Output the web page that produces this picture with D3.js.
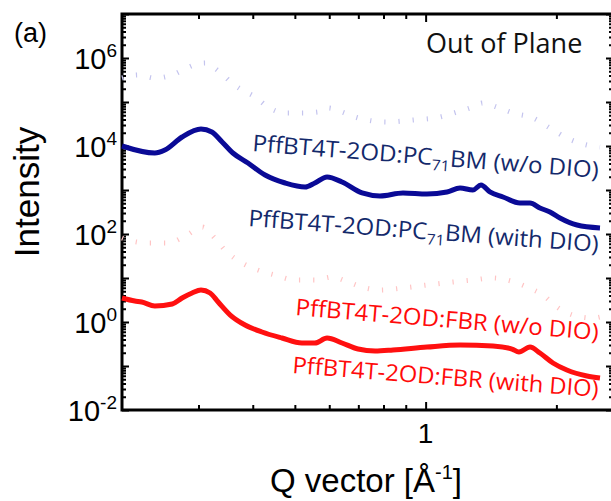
<!DOCTYPE html>
<html><head><meta charset="utf-8">
<script src="https://cdn.jsdelivr.net/npm/d3@7"></script>
<style>body{margin:0;background:#fff}svg{display:block}</style>
</head><body>
<svg id="c" width="611" height="501"></svg>
<script>
// ---- data ----
const qBlueSolid = [0.2,0.238,0.251,0.275,0.304,0.322,0.34,0.36,0.39,0.427,0.475,0.528,0.556,0.593,0.642,0.714,0.785,0.887,1.007,1.12,1.2,1.285,1.341,1.406,1.507,1.649,1.739,1.833,1.933,2.038,2.231,2.52];
const iBlueSolid = [10000,6930,8110,16020,24340,20800,12330,6930,4110,2190,1443,1170,1443,1974,1520,855,731,855,811,901,1110,1000,1300,901,693,507,507,390,316,231,160,137];

const qBlueDotted = [0.2,0.218,0.238,0.261,0.282,0.298,0.311,0.324,0.342,0.358,0.378,0.405,0.434,0.475,0.519,0.565,0.596,0.642,0.688,0.815,0.936,1.079,1.181,1.285,1.355,1.459,1.589,1.767,1.933,2.114,2.352,2.52];
const iBlueDotted = [351000,411000,351000,411000,593000,731000,769000,624000,411000,270000,187000,130000,76900,56200,56200,59300,73100,59300,45600,35100,39000,45600,59300,76900,94900,76900,56200,43300,25600,15200,10500,9490];

const qRedSolid = [0.2,0.214,0.222,0.238,0.261,0.275,0.29,0.304,0.319,0.333,0.355,0.384,0.42,0.467,0.519,0.556,0.593,0.642,0.699,0.765,0.841,1.007,1.2,1.429,1.581,1.64,1.739,1.833,1.964,2.114,2.352,2.52];
const iRedSolid = [3.51,3.0,2.85,2.31,2.57,3.51,4.56,5.34,4.56,2.85,1.44,0.855,0.593,0.433,0.333,0.333,0.433,0.333,0.243,0.219,0.231,0.27,0.3,0.285,0.243,0.208,0.27,0.197,0.117,0.0811,0.0593,0.0533];

const qRedDotted = [0.2,0.206,0.23,0.255,0.282,0.306,0.327,0.345,0.378,0.411,0.45,0.501,0.556,0.609,0.663,0.714,0.785,0.887,1.007,1.156,1.285,1.429,1.539,1.712,1.863,2.006,2.184,2.428,2.52];
const iRedDotted = [81.1,73.1,62.4,62.4,94.9,144,81.1,43.3,21.9,15.2,11.7,9.01,9.01,10.5,8.11,6.24,5.34,5.93,6.93,8.11,9.01,10,9.01,6.24,4.11,2.19,1.44,1.23,1.3];

const xMajorTicks = [1];
const xMinorTicks = [0.3,0.4,0.5,0.6,0.7,0.8,0.9,2];
const xTickLabels = ["1"];
const yDecades = [-2,-1,0,1,2,3,4,5,6,7];
const yLabelExps = [-2,0,2,4,6];

// ---- scales ----
const svg = d3.select("#c");
const L = 122, R = 613, T = 14, B = 410;
const x = d3.scaleLog().domain([0.2, 2.7]).range([L, R]);
const y = d3.scaleLog().domain([1e-2, 1e7]).range([B, T]);

const yMajor = yDecades.map(d => Math.pow(10, d));
const yMinor = [];
yDecades.slice(0, -1).forEach(d => { for (let k = 2; k <= 9; k++) yMinor.push(k * Math.pow(10, d)); });

function styleAxis(g) {
  g.select(".domain").remove();
  g.selectAll(".tick line").attr("stroke", "#000").attr("stroke-width", 2);
  g.selectAll(".tick text").remove();
}
// left
svg.append("g").attr("transform", `translate(${L},0)`)
  .call(d3.axisLeft(y).tickValues(yMajor).tickSize(-7).tickSizeOuter(0)).call(styleAxis);
svg.append("g").attr("transform", `translate(${L},0)`)
  .call(d3.axisLeft(y).tickValues(yMinor).tickSize(-4).tickSizeOuter(0)).call(styleAxis);
// right
svg.append("g").attr("transform", `translate(${R},0)`)
  .call(d3.axisRight(y).tickValues(yMajor).tickSize(-7).tickSizeOuter(0)).call(styleAxis);
svg.append("g").attr("transform", `translate(${R},0)`)
  .call(d3.axisRight(y).tickValues(yMinor).tickSize(-4).tickSizeOuter(0)).call(styleAxis);
// bottom
svg.append("g").attr("transform", `translate(0,${B})`)
  .call(d3.axisBottom(x).tickValues(xMajorTicks).tickSize(-8).tickSizeOuter(0)).call(styleAxis);
svg.append("g").attr("transform", `translate(0,${B})`)
  .call(d3.axisBottom(x).tickValues(xMinorTicks).tickSize(-5).tickSizeOuter(0)).call(styleAxis);
// top
svg.append("g").attr("transform", `translate(0,${T})`)
  .call(d3.axisTop(x).tickValues(xMajorTicks).tickSize(-8).tickSizeOuter(0)).call(styleAxis);
svg.append("g").attr("transform", `translate(0,${T})`)
  .call(d3.axisTop(x).tickValues(xMinorTicks).tickSize(-5).tickSizeOuter(0)).call(styleAxis);

// frame
svg.append("rect").attr("x", L).attr("y", T).attr("width", R - L).attr("height", B - T)
  .attr("fill", "none").attr("stroke", "#000").attr("stroke-width", 3);

// y tick labels
yLabelExps.forEach(e => {
  const t = svg.append("text").attr("x", 117).attr("y", y(Math.pow(10, e)) + 10.5)
    .attr("text-anchor", "end").attr("font-family", "Liberation Sans, Arial, sans-serif")
    .attr("font-size", 29).attr("fill", "#000");
  t.append("tspan").text("10");
  t.append("tspan").attr("dy", -12).attr("font-size", 19).text(String(e).replace("-", "-"));
});
// x tick labels
xMajorTicks.forEach((v, i) => {
  svg.append("text").attr("x", x(v)).attr("y", 443).attr("text-anchor", "middle")
    .attr("font-family", "Liberation Sans, Arial, sans-serif").attr("font-size", 28).text(xTickLabels[i]);
});

// curves
const line = d3.line().x(d => x(d[0])).y(d => y(d[1])).curve(d3.curveMonotoneX);
const zip = (a, b) => a.map((v, i) => [v, b[i]]);

svg.append("path").datum(zip(qBlueDotted, iBlueDotted)).attr("d", line)
  .attr("fill", "none").attr("stroke", "#c4c4ee").attr("stroke-width", 5).attr("stroke-dasharray", "1.2 13");
svg.append("path").datum(zip(qRedDotted, iRedDotted)).attr("d", line)
  .attr("fill", "none").attr("stroke", "#ffc4c4").attr("stroke-width", 5).attr("stroke-dasharray", "1.2 13");
svg.append("path").datum(zip(qBlueSolid, iBlueSolid)).attr("d", line)
  .attr("fill", "none").attr("stroke", "#0a0a96").attr("stroke-width", 5).attr("stroke-linejoin", "round");
svg.append("path").datum(zip(qRedSolid, iRedSolid)).attr("d", line)
  .attr("fill", "none").attr("stroke", "#ff1010").attr("stroke-width", 5).attr("stroke-linejoin", "round");

// curve labels
const labels = [
  {x0: 252, y0: 151, x1: 598, y1: 178, color: "#13296b", pre: "PffBT4T-2OD:PC", sub: "71", post: "BM (w/o DIO)"},
  {x0: 248, y0: 226, x1: 598, y1: 252, color: "#13296b", pre: "PffBT4T-2OD:PC", sub: "71", post: "BM (with DIO)"},
  {x0: 295, y0: 315, x1: 598, y1: 340, color: "#ff0a0a", pre: "PffBT4T-2OD:FBR (w/o DIO)", sub: "", post: ""},
  {x0: 292, y0: 373, x1: 598, y1: 397, color: "#ff0a0a", pre: "PffBT4T-2OD:FBR (with DIO)", sub: "", post: ""}
];
labels.forEach(l => {
  const ang = Math.atan2(l.y1 - l.y0, l.x1 - l.x0) * 180 / Math.PI;
  const len = Math.hypot(l.x1 - l.x0, l.y1 - l.y0);
  const t = svg.append("text").attr("transform", `translate(${l.x0},${l.y0}) rotate(${ang})`)
    .attr("font-family", "Open Sans, sans-serif").attr("font-size", 23).attr("fill", l.color)
    .attr("textLength", len).attr("lengthAdjust", "spacingAndGlyphs");
  t.append("tspan").text(l.pre);
  if (l.sub) {
    t.append("tspan").attr("dy", 5).attr("font-size", 15).text(l.sub);
    t.append("tspan").attr("dy", -5).text(l.post);
  }
});

// titles
svg.append("text").attr("x", 426).attr("y", 53).attr("font-family", "Open Sans, sans-serif")
  .attr("font-size", 27).attr("fill", "#111").text("Out of Plane");
svg.append("text").attr("x", 14).attr("y", 42).attr("font-family", "Liberation Sans, Arial, sans-serif")
  .attr("font-size", 27).text("(a)");
svg.append("text").attr("transform", "translate(39,192) rotate(-90)").attr("text-anchor", "middle")
  .attr("font-family", "Liberation Sans, Arial, sans-serif").attr("font-size", 35).text("Intensity");
const xl = svg.append("text").attr("x", 366).attr("y", 492).attr("text-anchor", "middle")
  .attr("font-family", "Liberation Sans, Arial, sans-serif").attr("font-size", 33);
xl.append("tspan").text("Q vector [Å");
xl.append("tspan").attr("dy", -13).attr("font-size", 20).text("-1");
xl.append("tspan").attr("dy", 13).text("]");
</script>
</body></html>
